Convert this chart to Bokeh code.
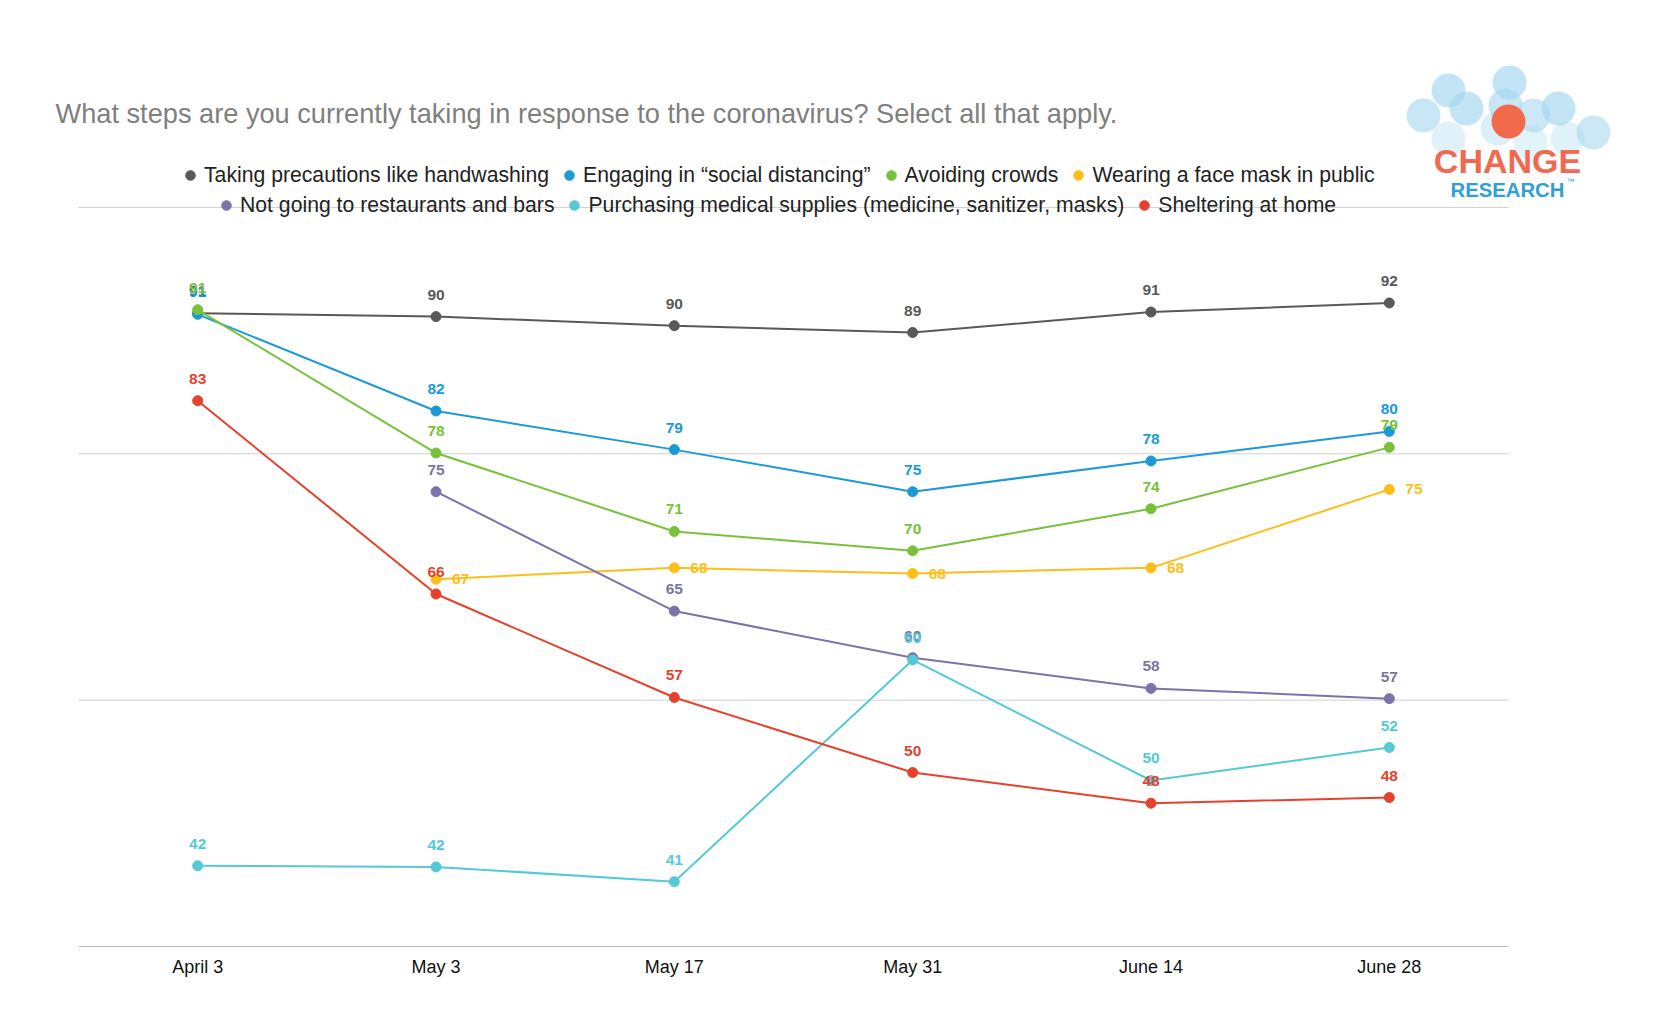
from bokeh.plotting import figure
from bokeh.embed import file_html
from bokeh.resources import INLINE
from bokeh.core.properties import value
from bokeh.models import Range1d, FixedTicker, Legend, LegendItem, Label, BoxAnnotation

nan = float("nan")

# survey waves
dates = ["April 3", "May 3", "May 17", "May 31", "June 14", "June 28"]

# percent of respondents
handwashing = [90.7, 90.4, 89.6, 89.0, 90.8, 91.6]
distancing = [90.6, 82.1, 78.7, 75.0, 77.7, 80.3]
crowds = [91.0, 78.4, 71.5, 69.8, 73.5, 78.9]
mask = [nan, 67.3, 68.3, 67.8, 68.3, 75.2]
restaurants = [nan, 75.0, 64.5, 60.4, 57.7, 56.8]
supplies = [42.1, 42.0, 40.7, 60.2, 49.6, 52.5]
sheltering = [83.0, 66.0, 56.9, 50.3, 47.6, 48.1]

# printed data labels
handwashing_lbl = ["91", "90", "90", "89", "91", "92"]
distancing_lbl = ["91", "82", "79", "75", "78", "80"]
crowds_lbl = ["91", "78", "71", "70", "74", "79"]
mask_lbl = ["", "67", "68", "68", "68", "75"]
restaurants_lbl = ["", "75", "65", "60", "58", "57"]
supplies_lbl = ["42", "42", "41", "60", "50", "52"]
sheltering_lbl = ["83", "66", "57", "50", "48", "48"]

# horizontal gridlines (value axis runs 35..100)
grid_ticks = [56.667, 78.333, 100]

series = [
    ("Taking precautions like handwashing", handwashing, handwashing_lbl, "#595959"),
    ("Engaging in \u201csocial distancing\u201d", distancing, distancing_lbl, "#1b9ad6"),
    ("Avoiding crowds", crowds, crowds_lbl, "#78c13a"),
    ("Wearing a face mask in public", mask, mask_lbl, "#fdbe19"),
    ("Not going to restaurants and bars", restaurants, restaurants_lbl, "#7a74a8"),
    ("Purchasing medical supplies (medicine, sanitizer, masks)", supplies, supplies_lbl, "#55c9d6"),
    ("Sheltering at home", sheltering, sheltering_lbl, "#e5412d"),
]

FONT = "Liberation Sans"
xs = list(range(len(dates)))

# page layout in pixels: plot area 78..1508 wide, 207..946 tall
FL, FB = 40, 946
PLOT_L, PLOT_R = 78, 1508
px_per_x = (PLOT_R - PLOT_L) / len(dates)


def sx(px):
    return px - FL


def sy(py):
    return FB - py


# the frame covers the whole upper area so title, legend and logo can sit inside it
p = figure(x_range=Range1d(-0.5 - (PLOT_L - FL) / px_per_x, -0.5 + (1620 - PLOT_L) / px_per_x),
           y_range=Range1d(35, 118.2),
           width=1640, height=1005, output_backend="svg", toolbar_location=None,
           y_axis_location=None, min_border_left=FL, min_border_right=20,
           min_border_top=0, min_border_bottom=1005 - FB)
p.outline_line_color = None
p.xgrid.grid_line_color = None
p.ygrid.grid_line_color = None

p.xaxis.ticker = FixedTicker(ticks=xs)
p.xaxis.major_label_overrides = {i: d for i, d in zip(xs, dates)}
p.xaxis.bounds = (-0.5, len(dates) - 0.5)
p.xaxis.axis_line_color = "#bfbfbf"
p.xaxis.major_tick_line_color = None
p.xaxis.minor_tick_line_color = None
p.xaxis.major_label_text_font = FONT
p.xaxis.major_label_text_font_size = "18px"
p.xaxis.major_label_text_color = "#111111"
p.xaxis.major_label_standoff = 4

p.segment(x0=-0.5, x1=len(dates) - 0.5, y0=grid_ticks, y1=grid_ticks,
          line_color="#d0d0d0", line_width=1)

dots = {}
for name, vals, lbls, color in series:
    p.line(x=xs, y=vals, line_color=color, line_width=2)
    dots[name] = p.scatter(x=xs, y=vals, size=10, fill_color=color, line_color=color)

# data labels on top of all lines
for name, vals, lbls, color in series:
    lx = [x for x, t in zip(xs, lbls) if t]
    ly = [v for v, t in zip(vals, lbls) if t]
    lt = [t for t in lbls if t]
    if name.startswith("Wearing"):
        p.text(x=lx, y=ly, text=lt, x_offset=16, y_offset=0, text_align="left",
               text_baseline="middle", text_color=color, text_font=value(FONT),
               text_font_size="15.5px", text_font_style="bold")
    else:
        p.text(x=lx, y=ly, text=lt, x_offset=0, y_offset=-22, text_align="center",
               text_baseline="middle", text_color=color, text_font=value(FONT),
               text_font_size="15.5px", text_font_style="bold")

# legend in two centred rows
rows = [series[:4], series[4:]]
row_pos = [(sx(178), sy(187)), (sx(214), sy(217))]
for items, loc in zip(rows, row_pos):
    leg = Legend(items=[LegendItem(label=s[0], renderers=[dots[s[0]]]) for s in items],
                 location=loc, orientation="horizontal", glyph_width=24, glyph_height=24,
                 label_standoff=2, spacing=8, padding=0, margin=0,
                 border_line_color=None, background_fill_alpha=0,
                 label_text_font=FONT, label_text_font_size="21.2px",
                 label_text_color="#222222")
    p.add_layout(leg)

p.add_layout(Label(x=sx(55), y=sy(113), x_units="screen", y_units="screen",
                   text="What steps are you currently taking in response to the coronavirus? Select all that apply.",
                   text_font=FONT, text_font_size="27.2px", text_color="#7f7f7f",
                   text_baseline="middle", text_align="left"))

# Change Research logo
bubbles = [(1509, 82, 0.65), (1448, 90, 0.65), (1466, 108, 0.65), (1423, 115, 0.6),
           (1505, 105, 0.6), (1533, 115, 0.55), (1558, 108, 0.65), (1593, 132, 0.55),
           (1448, 138, 0.35), (1567, 138, 0.35), (1497, 128, 0.4), (1530, 142, 0.3)]
for cx, cy, a in bubbles:
    r = 17
    p.add_layout(BoxAnnotation(left=sx(cx - r), right=sx(cx + r),
                               top=sy(cy - r), bottom=sy(cy + r),
                               left_units="screen", right_units="screen",
                               top_units="screen", bottom_units="screen",
                               border_radius=r, fill_color="#a3d6ef", fill_alpha=a,
                               line_color=None))
p.add_layout(BoxAnnotation(left=sx(1508 - 17), right=sx(1508 + 17),
                           top=sy(121 - 17), bottom=sy(121 + 17),
                           left_units="screen", right_units="screen",
                           top_units="screen", bottom_units="screen",
                           border_radius=17, fill_color="#f26a4b", fill_alpha=1,
                           line_color=None))
p.add_layout(Label(x=sx(1507), y=sy(160), x_units="screen", y_units="screen", text="CHANGE",
                   text_font=FONT, text_font_size="34px", text_font_style="bold",
                   text_color="#ef6a4f", text_align="center", text_baseline="middle"))
p.add_layout(Label(x=sx(1507), y=sy(189), x_units="screen", y_units="screen", text="RESEARCH",
                   text_font=FONT, text_font_size="20.3px", text_font_style="bold",
                   text_color="#2f9fd5", text_align="center", text_baseline="middle"))
p.add_layout(Label(x=sx(1566), y=sy(181), x_units="screen", y_units="screen", text="\u2122",
                   text_font=FONT, text_font_size="8px", text_color="#2f9fd5",
                   text_align="left", text_baseline="middle"))

open("out.html", "w").write(file_html(p, INLINE))
